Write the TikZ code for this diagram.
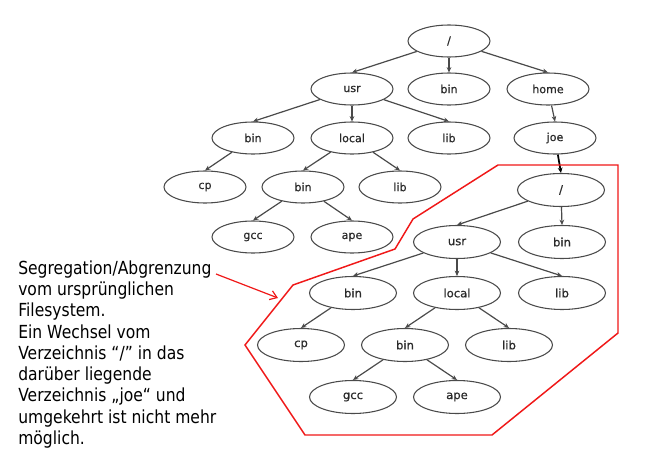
\documentclass[tikz,border=0pt]{standalone}
\usepackage{fontspec}
\newfontfamily\txtfont[FakeStretch=0.865]{DejaVu Sans}
\newfontfamily\treefont[FakeBold=0.6]{DejaVu Sans}
\usetikzlibrary{shapes.geometric,arrows.meta}
\definecolor{edgegray}{HTML}{4A4A4A}
\definecolor{labelgray}{HTML}{2A2A2A}
\definecolor{hlred}{HTML}{F01818}
\tikzset{
  dirU/.style={ellipse, draw=edgegray, line width=0.8pt, inner sep=0pt,
    minimum width=61.5pt, minimum height=24pt, text=labelgray,
    font=\treefont\fontsize{8.3}{10}\selectfont},
  dirL/.style={dirU, minimum width=65.25pt, minimum height=24.75pt,
    font=\treefont\fontsize{8.7}{10}\selectfont},
  edge/.style={draw=edgegray, line width=0.9pt, -{Stealth[length=4pt,width=3.5pt]}},
  mountedge/.style={draw=black, line width=1.3pt, -{Stealth[length=4pt,width=3.5pt]}},
  border/.style={draw=hlred, line width=1.1pt, line join=miter},
  pointer/.style={draw=hlred, line width=0.9pt, -{Straight Barb[length=5pt,width=7pt]}},
  note/.style={align=left, inner sep=0pt, anchor=north west,
    font=\txtfont\fontsize{13.5}{15.94}\selectfont}
}
\begin{document}
\begin{tikzpicture}[x=0.75pt,y=-0.75pt]
\path[use as bounding box, fill=white] (0,0) rectangle (650,457);

% upper tree
\node[dirU] (r1) at (449,41) {/};
\node[dirU] (uusr) at (352,89) {usr};
\node[dirU] (ubin) at (449,89) {bin};
\node[dirU] (uhome) at (548,89) {home};
\node[dirU] (ubinb) at (253,138) {bin};
\node[dirU] (ulocal) at (352,138) {local};
\node[dirU] (ulib) at (449,138) {lib};
\node[dirU] (ujoe) at (555,138) {joe};
\node[dirU] (ucp) at (205,187) {cp};
\node[dirU] (ubinc) at (303,187) {bin};
\node[dirU] (ulibc) at (400,187) {lib};
\node[dirU] (ugcc) at (253,237) {gcc};
\node[dirU] (uape) at (352,237) {ape};

\draw[edge] (r1) -- (uusr.north);
\draw[edge] (r1) -- (ubin.north);
\draw[edge] (r1) -- (uhome.north);
\draw[edge] (uusr) -- (ubinb.north);
\draw[edge] (uusr) -- (ulocal.north);
\draw[edge] (uusr) -- (ulib.north);
\draw[edge] (uhome) -- (ujoe.north);
\draw[edge] (ubinb) -- (ucp.north);
\draw[edge] (ulocal) -- (ubinc.north);
\draw[edge] (ulocal) -- (ulibc.north);
\draw[edge] (ubinc) -- (ugcc.north);
\draw[edge] (ubinc) -- (uape.north);

% lower tree
\node[dirL] (l1) at (561,190) {/};
\node[dirL] (lusr) at (457,242) {usr};
\node[dirL] (lbin) at (562,242) {bin};
\node[dirL] (lbinb) at (353,293) {bin};
\node[dirL] (llocal) at (457,293) {local};
\node[dirL] (llib) at (562,293) {lib};
\node[dirL] (lcp) at (301,345) {cp};
\node[dirL] (lbinc) at (405,345) {bin};
\node[dirL] (llibc) at (509,345) {lib};
\node[dirL] (lgcc) at (353,397) {gcc};
\node[dirL] (lape) at (457,397) {ape};

\draw[edge] (l1) -- (lusr.north);
\draw[edge] (l1) -- (lbin.north);
\draw[edge] (lusr) -- (lbinb.north);
\draw[edge] (lusr) -- (llocal.north);
\draw[edge] (lusr) -- (llib.north);
\draw[edge] (lbinb) -- (lcp.north);
\draw[edge] (llocal) -- (lbinc.north);
\draw[edge] (llocal) -- (llibc.north);
\draw[edge] (lbinc) -- (lgcc.north);
\draw[edge] (lbinc) -- (lape.north);

\draw[mountedge] (ujoe) -- (l1.north);

% red boundary
\draw[border] (498,165) -- (618,165) -- (618,333) -- (492,435) -- (305,435)
  -- (245,345) -- (293,285) -- (395,249) -- (413,219) -- cycle;

% note
\node[note] (txt) at (18,260.3) {Segregation/Abgrenzung\\vom ursprünglichen\\Filesystem.\\Ein Wechsel vom\\Verzeichnis “/” in das\\darüber liegende\\Verzeichnis „joe“ und\\umgekehrt ist nicht mehr\\möglich.};
\coordinate (pstart) at (216,274);
\coordinate (pend) at (278,298);
\draw[pointer] (pstart) -- (pend);
\end{tikzpicture}
\end{document}
